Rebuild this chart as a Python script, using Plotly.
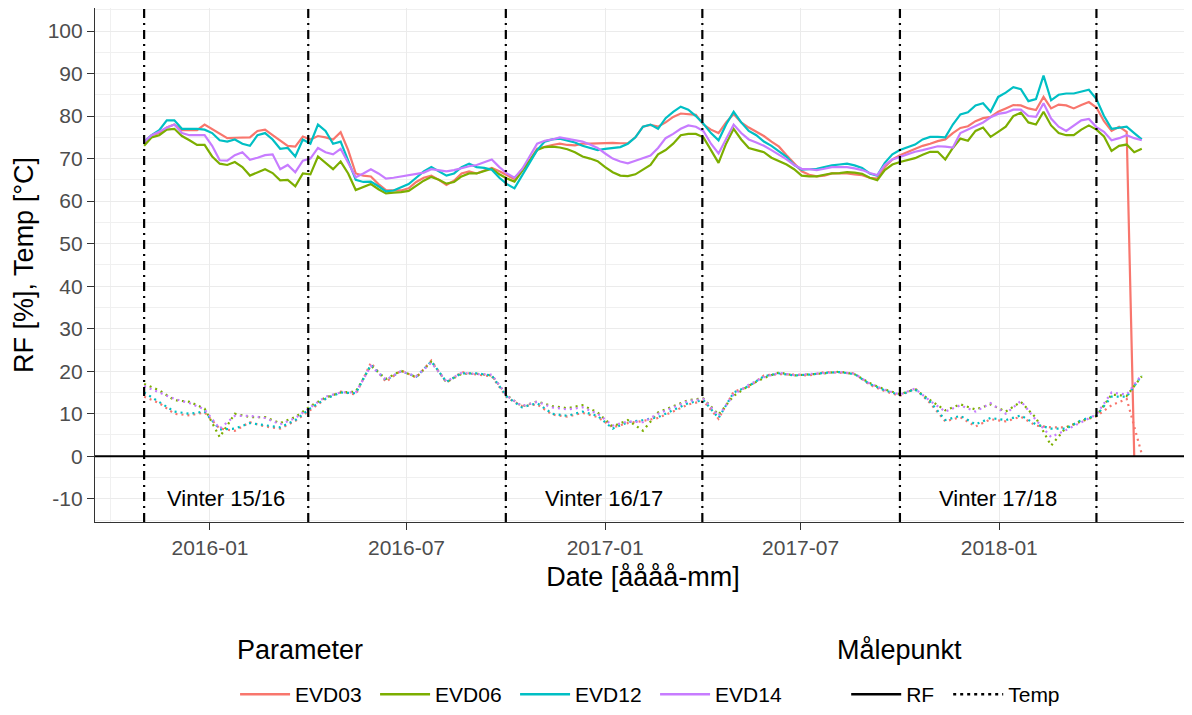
import pandas as pd
import plotly.graph_objects as go

# ---------------- data ----------------
rf_dates = pd.date_range("2015-11-01", periods=133, freq="7D")
temp_dates = pd.date_range("2015-11-01", periods=67, freq="14D")

parameters = ["EVD03", "EVD06", "EVD12", "EVD14"]
colors = ["#F8766D", "#7CAE00", "#00BFC4", "#C77CFF"]

rf_evd03 = [73.5, 75.5, 76, 77.3, 78, 76.7, 76.7, 76.7, 78, 77, 75.8, 74.8, 74.9, 75, 75, 76.5, 76.8, 75.5, 74.2, 73,
            72.8, 75.2, 74.5, 75.3, 75, 74.5, 76.2, 72, 66.5, 66, 65.8, 64, 62.6, 62.5, 62.5, 63, 64.5, 65.5, 66, 65,
            63.8, 64.8, 66.5, 67, 66.5, 67.2, 67.8, 67, 66, 65.2, 67.5, 69.5, 72.3, 72.8, 73.2, 73.5, 73.2, 73.1, 73.5, 73.5,
            73.6, 73.6, 73.7, 73.6, 73.6, 75, 77.5, 77.9, 77.5, 78.5, 79.8, 80.6, 80.5, 80.3, 78, 76.8, 76, 78.5, 80.5, 78.5,
            77.3, 76.3, 75.3, 74, 72.8, 70.8, 69, 67, 66.2, 65.8, 66, 66.5, 66.5, 66.5, 66.3, 66.1, 65.5, 65.3, 68, 69.8,
            70.8, 71.5, 72.3, 73, 73.5, 74.1, 74.5, 76, 77.2, 77.6, 78.8, 79.5, 79.8, 81, 81.8, 82.6, 82.5, 81.8, 81.4, 84.5,
            81.8, 82.7, 82.5, 81.8, 82.6, 83.3, 82, 78.8, 76.5, 77.5, 76.3, 0, None]
rf_evd06 = [73, 75, 75.5, 76.8, 77, 75.3, 74.3, 73.2, 73.2, 70.5, 68.8, 68.5, 69.2, 68, 66, 66.8, 67.5, 66.6, 64.9, 65,
            63.5, 66.5, 66.3, 70.5, 69, 67.5, 69.3, 66.5, 62.6, 63.3, 64, 62.8, 61.8, 62, 62.1, 62.4, 63.6, 64.8, 65.7, 65,
            64.1, 64.5, 65.8, 66.5, 66.5, 67.1, 67.6, 66.3, 65.3, 64.6, 67, 69.5, 72, 72.7, 72.8, 72.6, 72.2, 71.5, 70.5, 70,
            69.4, 68, 66.8, 66, 65.9, 66.3, 67.5, 68.5, 71, 72, 73.5, 75.5, 75.8, 75.8, 75, 72, 69, 73.5, 77, 74.5,
            72.5, 72, 71.5, 70.2, 69.4, 68.6, 67.5, 66, 65.8, 65.8, 66.2, 66.5, 66.6, 66.8, 66.7, 66.4, 65.5, 64.9, 67.3, 68.6,
            69.2, 69.6, 70.1, 70.9, 71.6, 71.6, 69.8, 72.5, 74.7, 74.2, 76.5, 77.3, 75.1, 76.3, 77.5, 80, 80.8, 78.5, 78, 81,
            77.8, 76, 75.5, 75.5, 76.8, 77.8, 76.8, 75.2, 71.8, 73, 73.3, 71.5, 72.3]
rf_evd12 = [74, 75.5, 76.7, 79, 79, 77, 77, 77, 76.8, 76, 74.3, 74, 74.5, 73.5, 73, 75.5, 76, 74.5, 72.3, 72.5,
            70.5, 74.5, 73.5, 78, 76.5, 73.5, 74, 69.5, 65, 64.5, 64.6, 63.5, 62.3, 62.5, 63.2, 64, 65.5, 67, 68, 67,
            66, 66.5, 68, 68.8, 68, 67.8, 67.4, 65.5, 64, 63, 66, 69, 72, 74, 74.5, 74.7, 74.2, 73.8, 73, 72.5,
            72, 72.3, 72.5, 72.7, 73.5, 75, 77.5, 78, 77, 79.5, 81, 82.2, 81.5, 80, 78.2, 76, 74.3, 78, 81, 78.5,
            76.5, 75.5, 74, 73, 71.7, 70.4, 68.5, 67.4, 67.5, 67.6, 68, 68.4, 68.6, 68.8, 68.4, 67.8, 66.5, 66, 69, 71,
            72, 72.6, 73.3, 74.5, 75.1, 75.1, 75, 78, 80.4, 80.9, 82.5, 83, 81, 84.5, 85.5, 86.8, 86.3, 83.5, 84, 89.5,
            83.7, 85, 85.3, 85.3, 85.8, 86.2, 84, 80, 77, 77.3, 77.5, 76, 74.5]
rf_evd14 = [74, 75.5, 76.3, 77.3, 78, 76, 75.5, 75.5, 75.5, 73, 69.6, 69.5, 70.8, 71.5, 69.7, 70.2, 70.8, 71, 67.5, 68.5,
            66.8, 69.5, 70, 72.5, 71.5, 71, 72.3, 69, 65.6, 66.5, 67.5, 66.5, 65.3, 65.5, 65.8, 66, 66.3, 66.7, 67.5, 67.3,
            67, 67.3, 67.8, 68.2, 68.5, 69.2, 69.8, 68, 66.5, 65.5, 67.5, 70.5, 73.5, 74.2, 74.5, 75, 74.7, 74.3, 74, 73.3,
            72.5, 71.2, 70, 69.3, 68.9, 69.5, 70.1, 70.7, 72.5, 74.8, 75.8, 77, 77.8, 77.5, 76.5, 73.5, 71.2, 74.5, 78, 76,
            74.5, 73.8, 73, 72, 71, 69.8, 68.5, 67.6, 67.5, 67.3, 67.6, 68, 68, 68, 67.7, 67.3, 66.6, 66.1, 68.5, 69.8,
            70.4, 71, 71.6, 72, 72.4, 72.9, 72.8, 72.6, 76, 76.8, 77.6, 78.5, 79.7, 80.5, 80.8, 81.5, 81.5, 80, 79.8, 83,
            79.4, 77.5, 76.5, 77.8, 79, 79.3, 77.4, 76.3, 74.3, 74.8, 75.5, 74.8, 74.3]

temp_evd03 = [14, 12.5, 10, 9.6, 10.3, 6.5, 6, 8, 7, 6.5, 8.3, 11, 13.5, 15.2, 14.5, 22, 17.5, 20.2, 18.5, 22.5,
              17.3, 19.8, 19.2, 18.8, 13.8, 11.8, 12.2, 9.8, 9.3, 10.2, 9.2, 6.8, 7.8, 8.3, 9, 10.5, 12.2, 13, 8.8, 15.2,
              16.3, 19, 19.3, 19.2, 19, 19.8, 19.7, 19.5, 16.8, 15.3, 14.2, 16, 12.5, 8.2, 9.2, 7, 8.7, 8.2, 9.3, 7.2,
              6.8, 6.8, 8.2, 9.4, 12, 13.5, 0.5]
temp_evd06 = [17, 15.5, 13.2, 12.8, 11.2, 4.5, 10, 9.2, 9.2, 7.8, 9.2, 11.8, 13.8, 15, 15.2, 21.3, 18.2, 20.1, 18.6, 22.2,
              17.4, 19.4, 19.4, 19, 14.3, 11.7, 12.9, 11.8, 11.3, 12, 10.3, 7, 8.5, 6, 10.3, 11.8, 13.2, 13.6, 9.8, 14.2,
              16.6, 18.4, 19.7, 19, 19.2, 19.5, 19.9, 19.3, 17.2, 15.7, 14.6, 15.7, 13.2, 10.8, 12.2, 11, 12.2, 10.5, 12.8, 9,
              2.5, 6.8, 8.3, 9.5, 14.5, 14.2, 18.8]
temp_evd12 = [15, 12.8, 10.5, 10, 10.5, 6.3, 6.5, 7.8, 7.3, 6.8, 8.5, 11.3, 13.5, 15, 14.8, 21.5, 17.9, 20, 18.7, 22.3,
              17.5, 19.5, 19.5, 19, 14, 11.5, 12.5, 10, 9.5, 10.5, 9.5, 6.5, 8, 8.5, 9.2, 10.8, 12.5, 13.2, 9, 15,
              16.5, 18.8, 19.5, 19, 19.2, 19.6, 19.8, 19.3, 17, 15.5, 14.4, 15.8, 12.8, 8.5, 9.5, 7.5, 9, 8.5, 9.6, 7.5,
              6.5, 6.5, 8.5, 9.6, 14, 14, 19]
temp_evd14 = [16.5, 15, 13.5, 12.5, 11, 6.5, 9.5, 9.5, 9, 7.5, 9, 11.5, 14, 15, 15, 21.2, 18, 20, 18.8, 22,
              17.6, 19.6, 19.3, 19.2, 14.2, 11.8, 12.8, 11.5, 11, 11.5, 10, 7.2, 8.2, 8, 10, 11.5, 13, 13.5, 9.5, 14.5,
              16.8, 18.6, 19.6, 19.1, 19.3, 19.6, 19.8, 19.4, 17.1, 15.6, 14.5, 15.9, 13, 10.5, 12, 10.5, 12.5, 10, 13, 8.5,
              4.5, 6.2, 8, 9.8, 15, 14.5, 19.2]

winter_bounds = ["2015-11-01", "2016-04-01", "2016-10-01", "2017-04-01", "2017-10-01", "2018-04-01"]
winter_labels = ["Vinter 15/16", "Vinter 16/17", "Vinter 17/18"]
winter_label_dates = ["2016-01-16", "2016-12-31", "2017-12-31"]
winter_label_y = -10

y_tick_values = list(range(-10, 101, 10))
y_tick_labels = [str(v) for v in y_tick_values]

rf_series = [rf_evd03, rf_evd06, rf_evd12, rf_evd14]
temp_series = [temp_evd03, temp_evd06, temp_evd12, temp_evd14]

# ---------------- figure ----------------
FONT = "Liberation Sans, Arial, sans-serif"
fig = go.Figure()

for name, col, rf, tp in zip(parameters, colors, rf_series, temp_series):
    fig.add_trace(go.Scatter(x=rf_dates, y=rf, mode="lines", name=name,
                             line=dict(color=col, width=2.2), showlegend=False))
    fig.add_trace(go.Scatter(x=temp_dates, y=tp, mode="lines", name=name,
                             line=dict(color=col, width=2.2, dash="2px,4px"), showlegend=False))

# legend entries
for name, col in zip(parameters, colors):
    fig.add_trace(go.Scatter(x=[None], y=[None], mode="lines", name=name,
                             line=dict(color=col, width=2.4), legend="legend"))
fig.add_trace(go.Scatter(x=[None], y=[None], mode="lines", name="RF",
                         line=dict(color="black", width=2.4), legend="legend2", legendwidth=37))
fig.add_trace(go.Scatter(x=[None], y=[None], mode="lines", name="Temp",
                         line=dict(color="black", width=2.4, dash="3px,4px"), legend="legend2", legendwidth=60))

shapes = []
for d in winter_bounds:
    shapes.append(dict(type="line", xref="x", yref="paper", x0=d, x1=d, y0=0, y1=1,
                       line=dict(color="black", width=2.2, dash="9px,5px,2px,5px"), layer="above"))
shapes.append(dict(type="line", xref="paper", yref="y", x0=0, x1=1, y0=0, y1=0,
                   line=dict(color="black", width=2), layer="above"))

annotations = []
for lab, d in zip(winter_labels, winter_label_dates):
    annotations.append(dict(x=d, y=winter_label_y, xref="x", yref="y", text=lab, showarrow=False,
                            font=dict(family=FONT, size=22, color="black"), xanchor="center", yanchor="middle"))
# legend titles
annotations.append(dict(x=0.1276, y=-0.2497, xref="paper", yref="paper", text="Parameter", showarrow=False,
                        xanchor="left", yanchor="middle", font=dict(family=FONT, size=27, color="black")))
annotations.append(dict(x=0.6753, y=-0.2497, xref="paper", yref="paper", text="Målepunkt", showarrow=False,
                        xanchor="left", yanchor="middle", font=dict(family=FONT, size=27, color="black")))

fig.update_layout(
    width=1192, height=715,
    margin=dict(l=87, r=9.3, t=0, b=201.3),
    paper_bgcolor="white", plot_bgcolor="white",
    font=dict(family=FONT, color="#4D4D4D"),
    shapes=shapes, annotations=annotations,
    legend=dict(orientation="h", x=0.1278, xanchor="left", y=-0.296, yanchor="top",
                font=dict(size=21, color="black"), itemwidth=50, entrywidth=75, entrywidthmode="pixels",
                bgcolor="rgba(0,0,0,0)"),
    legend2=dict(orientation="h", x=0.6854, xanchor="left", y=-0.296, yanchor="top",
                 font=dict(size=21, color="black"), itemwidth=50,
                 bgcolor="rgba(0,0,0,0)"),
)

fig.update_xaxes(
    range=["2015-09-16 12:00", "2018-06-27 14:00"], type="date",
    tickformat="%Y-%m", dtick="M6", tick0="2016-01-01",
    ticks="outside", ticklen=7, tickwidth=1.2, tickcolor="#333333",
    tickfont=dict(size=21, color="#4D4D4D"),
    showgrid=True, gridcolor="#EBEBEB", gridwidth=1.2,
    minor=dict(dtick="M3", tick0="2016-01-01", showgrid=True, gridcolor="#F0F0F0", gridwidth=0.6),
    showline=True, linecolor="#333333", linewidth=1.2, mirror=True,
    title=dict(text="Date [åååå-mm]", font=dict(size=27, color="black"), standoff=8),
    zeroline=False, automargin=False,
)
fig.update_yaxes(
    range=[-15.46, 105.41], tickvals=y_tick_values, ticktext=y_tick_labels,
    ticks="outside", ticklen=7, tickwidth=1.2, tickcolor="#333333",
    tickfont=dict(size=21, color="#4D4D4D"),
    showgrid=True, gridcolor="#EBEBEB", gridwidth=1.2,
    minor=dict(dtick=5, tick0=0, showgrid=True, gridcolor="#F0F0F0", gridwidth=0.6),
    showline=True, linecolor="#333333", linewidth=1.2, mirror=True,
    title=dict(text="RF [%], Temp [°C]", font=dict(size=27, color="black"), standoff=6),
    zeroline=False, automargin=False,
)

fig.write_html("out.html")
